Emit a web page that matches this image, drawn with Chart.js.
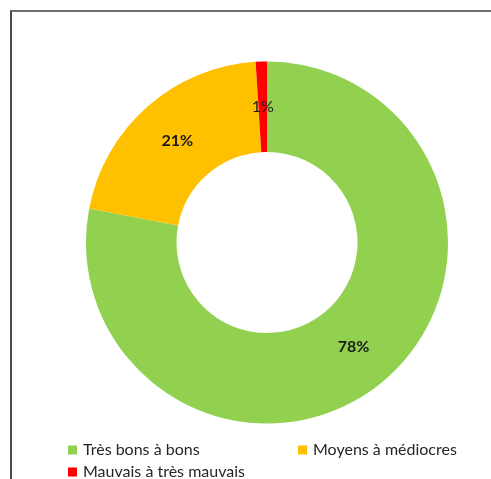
<!DOCTYPE html>
<html>
<head>
<meta charset="utf-8">
<script src="https://cdn.jsdelivr.net/npm/chart.js@4/dist/chart.umd.min.js"></script>
<style>
  html, body { margin: 0; padding: 0; background: #fff; }
  #wrap { position: relative; width: 491px; height: 479px; overflow: hidden; }
  #frame { position: absolute; left: 10px; top: 10px; width: 481px; height: 469px;
           border-top: 2px solid #6e6e6e; border-left: 2px solid #4a4a4a; box-sizing: border-box; }
  canvas { position: absolute; left: 0; top: 0; }
</style>
</head>
<body>
<div id="wrap">
  <div id="frame"></div>
  <canvas id="chart" width="491" height="479"></canvas>
</div>
<script>
const labels = ['Très bons à bons', 'Moyens à médiocres', 'Mauvais à très mauvais'];
const values = [78, 21, 1];
const colors = ['#92D050', '#FFC000', '#FF0000'];

// percent labels drawn at the centre of each arc
const sliceLabels = {
    id: 'sliceLabels',
    afterDatasetsDraw(chart) {
        const ctx = chart.ctx;
        const meta = chart.getDatasetMeta(0);
        ctx.save();
        ctx.textAlign = 'center';
        ctx.textBaseline = 'middle';
        ctx.fillStyle = '#1a1a1a';
        meta.data.forEach((arc, i) => {
            const p = arc.getCenterPoint();
            const v = chart.data.datasets[0].data[i];
            ctx.font = (v < 5 ? '' : 'bold ') + '16px Lato, "Open Sans", sans-serif';
            ctx.fillText(v + '%', p.x, p.y);
        });
        ctx.restore();
    }
};

// legend in two columns at the bottom
const gridLegend = {
    id: 'gridLegend',
    afterDraw(chart) {
        const ctx = chart.ctx;
        const cols = [68, 298];
        const rows = [450, 472];
        ctx.save();
        ctx.font = '16px Lato, "Open Sans", sans-serif';
        ctx.textBaseline = 'middle';
        chart.data.labels.forEach((lab, i) => {
            const x = cols[i % 2];
            const y = rows[Math.floor(i / 2)];
            ctx.fillStyle = chart.data.datasets[0].backgroundColor[i];
            ctx.fillRect(x, y - 4.5, 9, 9);
            ctx.fillStyle = '#262626';
            ctx.fillText(lab, x + 15, y);
        });
        ctx.restore();
    }
};

new Chart(document.getElementById('chart').getContext('2d'), {
    type: 'doughnut',
    data: {
        labels: labels,
        datasets: [{
            data: values,
            backgroundColor: colors,
            borderWidth: 0
        }]
    },
    options: {
        responsive: false,
        animation: false,
        cutout: '50%',
        layout: { padding: { left: 86, right: 43, top: 61, bottom: 55 } },
        plugins: {
            legend: { display: false },
            tooltip: { enabled: false }
        }
    },
    plugins: [sliceLabels, gridLegend]
});
</script>
</body>
</html>
